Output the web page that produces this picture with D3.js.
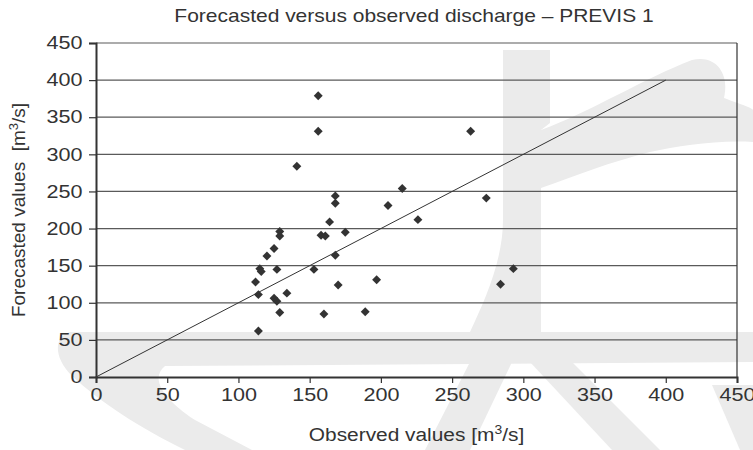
<!DOCTYPE html>
<html>
<head>
<meta charset="utf-8">
<script src="https://cdn.jsdelivr.net/npm/d3@7"></script>
<style>
  body { margin: 0; background: #fff; }
  text { font-family: "Liberation Sans", Arial, sans-serif; fill: #333; white-space: pre; }
</style>
</head>
<body>
<div id="chart"></div>
<script>
// observed vs forecasted discharge [m3/s]
const observed = [156, 156, 141, 263, 168, 168, 215, 205, 274, 226, 164, 129, 129, 175, 158, 161,
  125, 120, 168, 115, 116, 127, 153, 112, 293, 284, 197, 170, 114, 134, 125, 127, 129, 160, 189, 114];
const forecasted = [379, 331, 284, 331, 244, 234, 254, 231, 241, 212, 209, 196, 190, 195, 191, 190,
  173, 163, 164, 146, 142, 145, 145, 128, 146, 125, 131, 124, 111, 113, 106, 102, 87, 85, 88, 62];
const xTicks = [0, 50, 100, 150, 200, 250, 300, 350, 400, 450];
const yTicks = [0, 50, 100, 150, 200, 250, 300, 350, 400, 450];
const refLine = [0, 400];

const W = 753, H = 450;
const margin = {top: 43, right: 16, bottom: 73, left: 96};
const width = W - margin.left - margin.right;
const height = H - margin.top - margin.bottom;
const stretch = 1.2; // the scan is a bit wider than it is tall

const svg = d3.select("#chart").append("svg")
  .attr("width", W)
  .attr("height", H);

// faint watermark of the scanned page, behind everything
const wm = svg.append("g").attr("fill", "#ebebeb");
wm.append("path").attr("d", "M70,332 L753,332 L753,362 L165,366 C150,378 162,398 195,420 L252,450 L185,450 C140,428 100,402 72,376 C52,356 55,336 70,332 Z");
wm.append("path").attr("d", "M503,50 L550,50 L550,123 L541,130 L541,332 L470,332 C485,300 503,260 503,220 Z");
wm.append("path").attr("d", "M541,130 C590,112 645,78 692,60 C716,54 730,74 724,98 C740,104 753,108 753,110 L753,142 C715,140 680,146 650,152 C610,162 575,176 541,188 Z");
wm.append("path").attr("d", "M470,362 L512,362 L470,450 L425,450 Z");
wm.append("path").attr("d", "M530,362 L572,362 L660,450 L612,450 Z");
wm.append("path").attr("d", "M712,385 L753,385 L753,450 L740,450 Z");

const g = svg.append("g")
  .attr("transform", "translate(" + margin.left + "," + margin.top + ")");

const x = d3.scaleLinear().domain([0, 450]).range([0, width]);
const y = d3.scaleLinear().domain([0, 450]).range([height, 0]);

// horizontal gridlines
g.selectAll(".grid")
  .data(yTicks.filter(d => d > 0))
  .enter().append("line")
  .attr("class", "grid")
  .attr("x1", 0).attr("x2", width)
  .attr("y1", d => y(d)).attr("y2", d => y(d))
  .attr("stroke", "#5a5a5a")
  .attr("stroke-width", 1.2);

// right border
g.append("line")
  .attr("x1", width).attr("x2", width)
  .attr("y1", 0).attr("y2", height)
  .attr("stroke", "#333").attr("stroke-width", 1.2);

// axes
const xAxis = d3.axisBottom(x).tickValues(xTicks).tickSize(6).tickPadding(5);
const yAxis = d3.axisLeft(y).tickValues(yTicks).tickSize(7).tickPadding(4);

const xg = g.append("g").attr("transform", "translate(0," + height + ")").call(xAxis);
const yg = g.append("g").call(yAxis);

[xg, yg].forEach(a => {
  a.select(".domain").attr("stroke", "#333").attr("stroke-width", 2);
  a.selectAll(".tick line").attr("stroke", "#333").attr("stroke-width", 1.2);
  a.selectAll(".tick text")
    .style("font-size", "18px")
    .style("font-family", "Liberation Sans, Arial, sans-serif")
    .attr("fill", "#333")
    .attr("transform", "scale(" + stretch + ",1)");
});
yg.selectAll(".tick text").attr("x", -11 / stretch - 2);

// 1:1 reference line
g.append("line")
  .attr("x1", x(refLine[0])).attr("y1", y(refLine[0]))
  .attr("x2", x(refLine[1])).attr("y2", y(refLine[1]))
  .attr("stroke", "#333").attr("stroke-width", 1);

// diamond markers
const diamond = {
  draw(ctx, size) {
    const r = Math.sqrt(size / 2);
    ctx.moveTo(0, -r); ctx.lineTo(r, 0); ctx.lineTo(0, r); ctx.lineTo(-r, 0); ctx.closePath();
  }
};
const pts = observed.map((d, i) => ({obs: d, fc: forecasted[i]}));
g.selectAll(".pt")
  .data(pts)
  .enter().append("path")
  .attr("class", "pt")
  .attr("d", d3.symbol().type(diamond).size(40))
  .attr("transform", d => "translate(" + x(d.obs) + "," + y(d.fc) + ")")
  .attr("fill", "#333");

// title
svg.append("g")
  .attr("transform", "translate(414,22) scale(" + stretch + ",1)")
  .append("text")
  .attr("text-anchor", "middle")
  .style("font-size", "17.5px")
  .text("Forecasted versus observed discharge – PREVIS 1");

// x label
const xl = svg.append("g")
  .attr("transform", "translate(" + (margin.left + width / 2) + ",441) scale(1.16,1)")
  .append("text")
  .attr("text-anchor", "middle")
  .style("font-size", "18px");
xl.append("tspan").text("Observed values [m");
xl.append("tspan").attr("dy", -7).style("font-size", "12px").text("3");
xl.append("tspan").attr("dy", 7).text("/s]");

// y label
const yl = svg.append("text")
  .attr("transform", "translate(25," + (margin.top + height / 2) + ") rotate(-90)")
  .attr("text-anchor", "middle")
  .style("font-size", "19px");
yl.append("tspan").text("Forecasted values  [m");
yl.append("tspan").attr("dy", -7).style("font-size", "13px").text("3");
yl.append("tspan").attr("dy", 7).text("/s]");
</script>
</body>
</html>
